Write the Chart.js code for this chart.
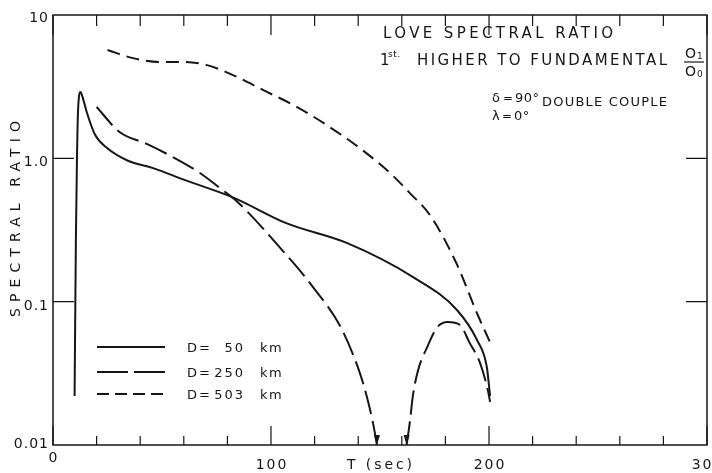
<!DOCTYPE html>
<html><head><meta charset="utf-8">
<script src="https://cdn.jsdelivr.net/npm/chart.js@4"></script>
<style>
html,body{margin:0;padding:0;background:#fff;overflow:hidden;width:712px;height:473px}
canvas{display:block}
</style></head>
<body><canvas id="c" width="740" height="473"></canvas>
<script>
// ---- data ----
const xLabelValues = [0, 100, 200, 300];
const xLabels = ['0', '100', '200', '300'];
const yTickValues = [10, 1, 0.1, 0.01];
const yTickLabels = ['10', '1.0', '0.1', '0.01'];

const d50T = [9.9, 10.5, 11.0, 11.5, 12.6, 13.8, 15.6, 19.3, 24.8, 33.9, 45.9, 60, 83, 107, 135, 165, 185.3, 194.5, 199, 200.5];
const d50R = [0.022, 0.27, 1.0, 2.17, 2.9, 2.6, 2.07, 1.46, 1.18, 0.97, 0.855, 0.71, 0.53, 0.353, 0.256, 0.149, 0.0875, 0.054, 0.035, 0.022];

const d250T = [20, 30.7, 43, 55, 67.4, 76.6, 84.4, 105, 119, 132.3, 141, 144, 146.8, 148.6, 155, 162.2, 163.8, 165, 167.4, 171.6, 176, 181, 186.7, 191, 196, 199.5, 200.5];
const d250R = [2.28, 1.52, 1.26, 1.02, 0.79, 0.62, 0.50, 0.23, 0.128, 0.065, 0.031, 0.0216, 0.0142, 0.01, null, 0.01, 0.0149, 0.0216, 0.033, 0.048, 0.0655, 0.072, 0.0687, 0.052, 0.037, 0.024, 0.02];

const d503T = [25, 36.7, 49, 60, 70.6, 82.6, 96.3, 112, 127, 142, 154.6, 163.8, 173, 185, 194.5, 200.5];
const d503R = [5.7, 5.0, 4.7, 4.7, 4.47, 3.81, 3.0, 2.28, 1.65, 1.14, 0.79, 0.57, 0.40, 0.186, 0.083, 0.052];

const depthLabels = ['50', '250', '503'];

// ---- helpers ----
const INK = '#161616';
const FONT = '"DejaVu Sans"';
const toPts = (t, r) => t.map((x, i) => ({ x: x, y: r[i] }));

function sp(ctx, text, x, y, width, size, align) {
  ctx.font = size + 'px ' + FONT;
  ctx.letterSpacing = '0px';
  const w0 = ctx.measureText(text).width;
  const n = [...text].length;
  let s = (width != null && n > 1) ? (width - w0) / (n - 1) : 0;
  ctx.letterSpacing = s + 'px';
  const w = w0 + s * (n - 1);
  let x0 = x;
  if (align === 'center') x0 = x - w / 2;
  else if (align === 'right') x0 = x - w;
  ctx.textAlign = 'left';
  ctx.fillText(text, x0, y);
  ctx.letterSpacing = '0px';
}
function tx(ctx, text, x, y, size, ls) {
  ctx.font = size + 'px ' + FONT;
  ctx.letterSpacing = (ls || 0) + 'px';
  ctx.textAlign = 'left';
  ctx.fillText(text, x, y);
  ctx.letterSpacing = '0px';
}

const deco = {
  id: 'deco',
  afterDraw(chart) {
    const ctx = chart.ctx;
    const a = chart.chartArea;
    const xs = chart.scales.x, ys = chart.scales.y;
    ctx.save();
    ctx.strokeStyle = INK; ctx.fillStyle = INK;
    ctx.textBaseline = 'alphabetic';

    // frame
    ctx.lineWidth = 1.5;
    ctx.strokeRect(a.left, a.top, a.right - a.left, a.bottom - a.top);

    // x ticks (inward, every 20)
    ctx.lineWidth = 1.2;
    xs.ticks.forEach(t => {
      const px = xs.getPixelForValue(t.value);
      const major = t.value % 100 === 0;
      const lb = major ? 19 : 9, lt = major ? 20 : 11;
      ctx.beginPath();
      ctx.moveTo(px, a.bottom); ctx.lineTo(px, a.bottom - lb);
      ctx.moveTo(px, a.top); ctx.lineTo(px, a.top + lt);
      ctx.stroke();
    });
    // y ticks at inner decades
    [1, 0.1].forEach(v => {
      const py = ys.getPixelForValue(v);
      ctx.beginPath();
      ctx.moveTo(a.left, py); ctx.lineTo(a.left + 21, py);
      ctx.moveTo(a.right, py); ctx.lineTo(a.right - 21, py);
      ctx.stroke();
    });

    // y tick labels
    yTickValues.forEach((v, i) => {
      const py = ys.getPixelForValue(v);
      const off = v === 0.01 ? 3 : (v === 10 ? 7 : 8);
      ctx.font = '14px ' + FONT;
      ctx.letterSpacing = '1px';
      ctx.textAlign = 'right';
      ctx.fillText(yTickLabels[i], a.left - 4, py + off);
      ctx.letterSpacing = '0px';
    });
    // x tick labels
    xLabelValues.forEach((v, i) => {
      const px = xs.getPixelForValue(v);
      ctx.font = '14px ' + FONT;
      ctx.letterSpacing = '2px';
      ctx.textAlign = 'center';
      ctx.fillText(xLabels[i], px + 1, v === 0 ? a.bottom + 17 : a.bottom + 24);
      ctx.letterSpacing = '0px';
    });
    // axis titles
    sp(ctx, 'T (sec)', 347, a.bottom + 24, 65, 14, 'left');
    ctx.save();
    ctx.translate(15, 219);
    ctx.rotate(-Math.PI / 2);
    sp(ctx, 'SPECTRAL RATIO', 0, 5, 196, 14, 'center');
    ctx.restore();

    // annotation texts
    sp(ctx, 'LOVE SPECTRAL RATIO', 383, 38, 230, 15, 'left');
    tx(ctx, '1', 380, 65, 15);
    sp(ctx, 'st.', 388, 57, 12, 9, 'left');
    sp(ctx, 'HIGHER TO FUNDAMENTAL', 417, 65, 250, 15, 'left');
    // fraction O1 / O0
    tx(ctx, 'O', 685, 58, 14);
    tx(ctx, '1', 697, 59, 9);
    ctx.lineWidth = 1.2;
    ctx.beginPath(); ctx.moveTo(684, 62); ctx.lineTo(704, 62); ctx.stroke();
    tx(ctx, 'O', 685, 76, 14);
    tx(ctx, '0', 697, 77, 9);

    tx(ctx, 'δ', 492, 102, 13);
    tx(ctx, '=', 503, 102, 12);
    tx(ctx, '90°', 515, 102, 13, 0.5);
    tx(ctx, 'λ', 492, 120, 13);
    tx(ctx, '=', 502, 120, 12);
    tx(ctx, '0°', 514, 120, 13, 0.5);
    sp(ctx, 'DOUBLE COUPLE', 542, 106, 125, 13, 'left');

    // legend
    const rows = [347, 372, 394];
    const dashes = [[], [31, 6], [12, 6]];
    rows.forEach((ry, i) => {
      ctx.lineWidth = 2;
      ctx.setLineDash(dashes[i]);
      ctx.beginPath(); ctx.moveTo(97, ry); ctx.lineTo(165, ry); ctx.stroke();
      ctx.setLineDash([]);
      tx(ctx, 'D', 187, ry + 5, 13);
      tx(ctx, '=', 199, ry + 5, 13);
      ctx.font = '13px ' + FONT;
      ctx.letterSpacing = '2px';
      ctx.textAlign = 'right';
      ctx.fillText(depthLabels[i], 245, ry + 5);
      ctx.letterSpacing = '0px';
      tx(ctx, 'km', 260, ry + 5, 13, 1.5);
    });

    // arrowheads where the 250 km curve meets the bottom axis
    const meta = chart.getDatasetMeta(1);
    d250R.forEach((v, i) => {
      if (v === ys.min) {
        const p = meta.data[i];
        ctx.beginPath();
        ctx.moveTo(p.x, p.y);
        ctx.lineTo(p.x - 3, p.y - 10);
        ctx.lineTo(p.x + 3, p.y - 10);
        ctx.closePath();
        ctx.fill();
      }
    });
    ctx.restore();
  }
};

new Chart(document.getElementById('c').getContext('2d'), {
  type: 'line',
  data: {
    datasets: [
      { label: 'D= 50 km', data: toPts(d50T, d50R), borderColor: INK, borderWidth: 2, pointRadius: 0, cubicInterpolationMode: 'monotone', fill: false },
      { label: 'D=250 km', data: toPts(d250T, d250R), borderColor: INK, borderWidth: 2, borderDash: [24, 7], pointRadius: 0, cubicInterpolationMode: 'monotone', spanGaps: false, fill: false },
      { label: 'D=503 km', data: toPts(d503T, d503R), borderColor: INK, borderWidth: 2, borderDash: [13, 7], pointRadius: 0, cubicInterpolationMode: 'monotone', fill: false }
    ]
  },
  options: {
    responsive: false,
    animation: false,
    devicePixelRatio: 1,
    layout: { padding: { left: 53, top: 15, right: 33, bottom: 28 } },
    plugins: { legend: { display: false }, tooltip: { enabled: false } },
    scales: {
      x: { type: 'linear', min: 0, max: 300, ticks: { stepSize: 20 }, display: false },
      y: { type: 'logarithmic', min: 0.01, max: 10, display: false }
    }
  },
  plugins: [deco]
});
</script>
</body></html>
